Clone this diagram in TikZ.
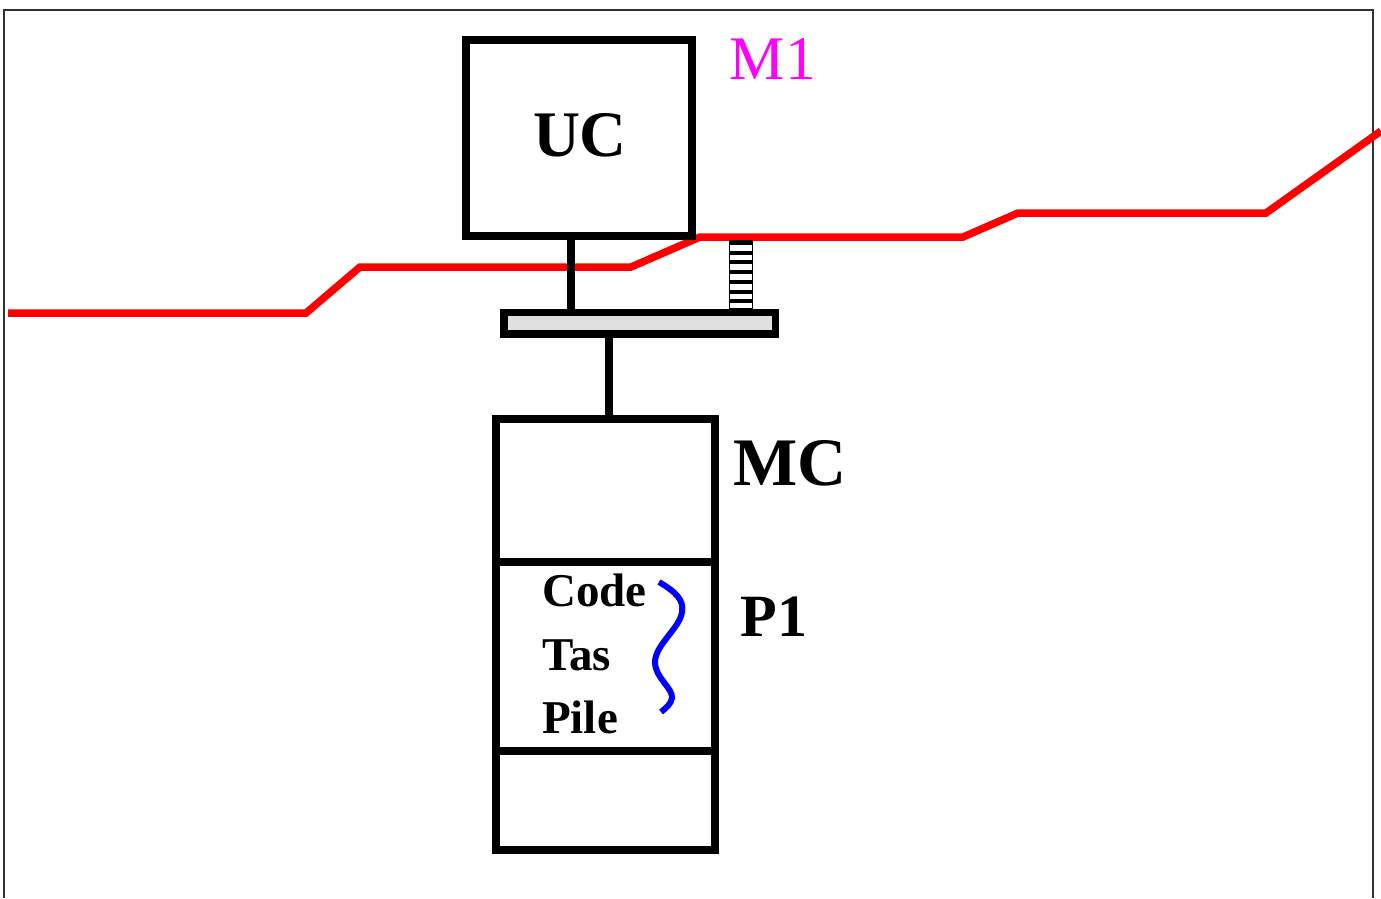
\documentclass[tikz,border=0pt]{standalone}
\usepackage{fontspec}
\setmainfont{Liberation Serif}
\definecolor{redline}{RGB}{255,0,0}
\definecolor{magent}{RGB}{255,0,255}
\definecolor{bluewave}{RGB}{0,0,255}
\definecolor{bargray}{RGB}{224,224,224}
\definecolor{framegray}{RGB}{50,50,50}
\tikzset{
  blk/.style={draw=black, line width=8pt, inner sep=0pt, outer sep=0pt, fill=white},
  wire/.style={draw=black, line width=8pt},
  bigbold/.style={font=\fontsize{#1}{#1}\selectfont\bfseries, inner sep=0pt, anchor=base},
  memtxt/.style={font=\fontsize{47}{47}\selectfont\bfseries, inner sep=0pt, anchor=base west},
}
\begin{document}
\begin{tikzpicture}[x=1pt,y=-1pt]
\useasboundingbox (0,0) rectangle (1381,898);
% frame
\draw[framegray, line width=2pt] (4,898) -- (4,10) -- (1373,10) -- (1373,898);
% red network line
\draw[redline, line width=7.5pt] (8,313) -- (306,313) -- (360,267) -- (631,267) -- (700,237) -- (963,237) -- (1018,213) -- (1266,213) -- (1381,131);
% UC box
\node[blk, fill=none, minimum width=226.5pt, minimum height=196pt] (uc) at (578.75,138) {};
\node[bigbold=65] (uclbl) at (580,156) {UC};
\node[bigbold=62, font=\fontsize{62}{62}\selectfont\mdseries, text=magent] (m1) at (773,79) {M1};
% bus bar
\node[blk, line width=7.5pt, fill=bargray, minimum width=271.5pt, minimum height=21.5pt] (bus) at (639.75,323.25) {};
% connectors
\coordinate (c1) at (571,0);
\coordinate (c2) at (609,0);
\draw[wire] (c1 |- uc.south) -- (c1 |- bus.north);
% striped link
\node[draw=black, line width=1.5pt, fill=white, minimum width=23pt, minimum height=68pt, inner sep=0pt, outer sep=0pt] (spring) at (741,274.5) {};
\foreach \yy in {243,252.7,262.4,272.1,281.8,291.5,301.2}{
  \draw[black, line width=4pt] (729.5,\yy) -- (752.5,\yy);
}
% MC stack
\node[blk, minimum width=219.5pt, minimum height=143pt] (mctop) at (605.25,490.5) {};
\node[blk, minimum width=219.5pt, minimum height=188.5pt] (p1box) at (605.25,656.25) {};
\node[blk, minimum width=219.5pt, minimum height=99pt] (mcbot) at (605.25,800) {};
\draw[wire] (c2 |- bus.south) -- (c2 |- mctop.north);
% labels
\node[bigbold=68] (mclbl) at (790,485) {MC};
\node[bigbold=60] (p1lbl) at (774,636) {P1};
\node[memtxt] (code) at (542,606) {Code};
\node[memtxt] (tas) at (542,670) {Tas};
\node[memtxt] (pile) at (542,733) {Pile};
% thread wave
\draw[bluewave, line width=6pt] (659,582) .. controls (676,592) and (684,600) .. (682,612) .. controls (680,628) and (655,645) .. (655,662) .. controls (655,678) and (673,688) .. (672,698) .. controls (671,704) and (666,708) .. (661,712);
\end{tikzpicture}
\end{document}
